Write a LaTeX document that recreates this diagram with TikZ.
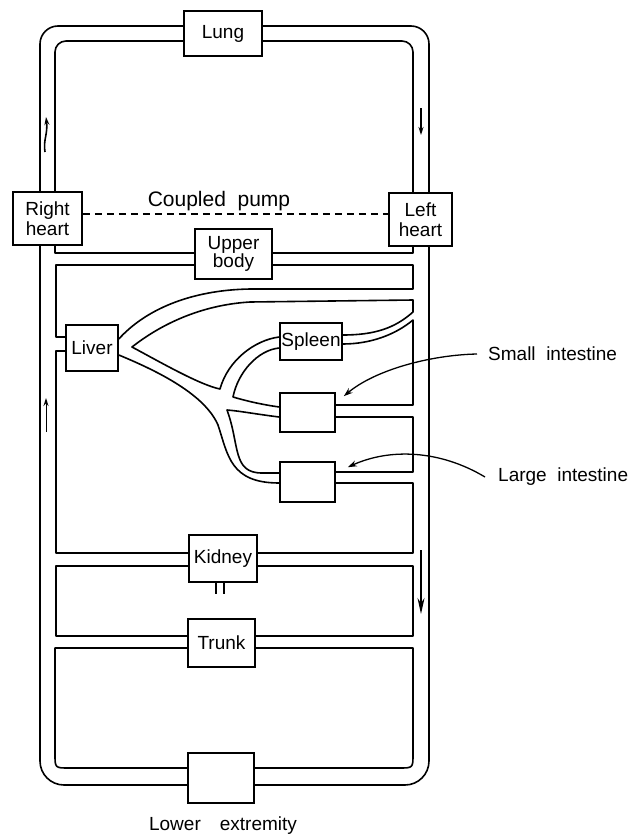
\documentclass[tikz,border=0pt]{standalone}
\usepackage{fontspec}
\setmainfont{Liberation Sans}
\usepackage{tikz}
\usetikzlibrary{arrows.meta,calc}

\begin{document}
\begin{tikzpicture}[
    x=1pt, y=-1pt,
    organ/.style={draw, line width=1.6pt, inner sep=0pt, align=center, font=\fontsize{19}{20}\selectfont},
    wall/.style={line width=1.6pt, line join=round},
    flow/.style={line width=1.3pt, -{Stealth[length=8pt, width=5pt]}},
    pointer/.style={line width=1.3pt, -{Stealth[length=9pt, width=6pt]}},
    label/.style={font=\fontsize{19}{21}\selectfont}
]
\useasboundingbox (0,0) rectangle (632,835);

% Organ boxes
\node[organ, minimum width=78, minimum height=45] (lung) at (223,33.5) {Lung};
\node[organ, minimum width=69, minimum height=53] (rheart) at (47.5,218.5) {Right\\heart};
\node[organ, minimum width=63, minimum height=53] (lheart) at (420.5,219.5) {Left\\heart};
\node[organ, minimum width=77, minimum height=50, font=\fontsize{19}{17}\selectfont] (upper) at (233.5,254) {Upper\\body};
\node[organ, minimum width=52, minimum height=46] (liver) at (92,348) {Liver};
\node[organ, minimum width=62, minimum height=37] (spleen) at (311,341.5) {Spleen};
\node[organ, minimum width=55, minimum height=39] (smallint) at (307.5,412.5) {};
\node[organ, minimum width=55, minimum height=40] (largeint) at (307.5,482) {};
\node[organ, minimum width=68, minimum height=47] (kidney) at (223,558.5) {Kidney};
\node[organ, minimum width=67, minimum height=48] (trunk) at (221.5,643) {Trunk};
\node[organ, minimum width=66, minimum height=50] (lower) at (221,778) {};

% Pulmonary loop
\draw[wall, rounded corners=18] (rheart.north -| 40,0) -- (40,26) -- (lung.west |- 0,26);
\draw[wall, rounded corners=18] (lung.east |- 0,26) -- (429,26) -- (lheart.north -| 429,0);
\draw[wall, rounded corners=11] (rheart.north -| 55,0) -- (55,41) -- (lung.west |- 0,41);
\draw[wall, rounded corners=11] (lung.east |- 0,41) -- (413,41) -- (lheart.north -| 413,0);

% Coupled pump
\draw[line width=1.2pt, dash pattern=on 7pt off 5pt] (rheart.east |- 0,214) -- (lheart.west |- 0,214);
\node[label, font=\fontsize{21}{22}\selectfont] (pump) at (219,201) {Coupled\ \ pump};

% Upper body
\draw[wall] (rheart.south -| 55,0) -- (55,253) -- (upper.west |- 0,253);
\draw[wall] (upper.east |- 0,253) -- (413,253) -- (lheart.south -| 413,0);
\draw[wall] (upper.west |- 0,265) -- (56,265) -- (56,337) -- (liver.west |- 0,337);
\draw[wall] (upper.east |- 0,265) -- (413,265) -- (413,289) -- (250,289)
    .. controls (190,290) and (145,310) .. (liver.east |- 0,339);

% Hepatic artery and spleen
\draw[wall] (spleen.east |- 0,335) .. controls (375,335) and (395,328) .. (413,312) -- (413,300) -- (250,302)
    .. controls (200,305) and (160,325) .. (132,347)
    .. controls (160,362) and (200,385) .. (220,389)
    .. controls (228,360) and (255,340) .. (spleen.west |- 0,337);
\draw[wall] (spleen.west |- 0,348) .. controls (258,350) and (238,372) .. (233,397)
    .. controls (250,402) and (265,405) .. (smallint.west |- 0,407);
\draw[wall] (smallint.east |- 0,405) -- (413,405) -- (413,320)
    .. controls (395,335) and (370,344) .. (spleen.east |- 0,344);

% Small and large intestine
\draw[wall] (smallint.west |- 0,417) .. controls (255,414) and (240,411) .. (227,410)
    .. controls (240,445) and (232,473) .. (262,473) -- (largeint.west |- 0,473);
\draw[wall] (smallint.east |- 0,417) -- (413,417) -- (413,472) -- (largeint.east |- 0,472);
\draw[wall] (liver.east |- 0,355) .. controls (160,372) and (205,395) .. (218,425)
    .. controls (228,455) and (230,483) .. (largeint.west |- 0,483);
\draw[wall] (largeint.east |- 0,483) -- (413,483) -- (413,553) -- (kidney.east |- 0,553);
\draw[wall] (kidney.west |- 0,553) -- (56,553) -- (56,351) -- (liver.west |- 0,351);

% Kidney and trunk
\draw[wall] (kidney.west |- 0,566) -- (56,566) -- (56,636) -- (trunk.west |- 0,636);
\draw[wall] (kidney.east |- 0,566) -- (413,566) -- (413,636) -- (trunk.east |- 0,636);
\draw[wall] ([xshift=-7pt]kidney.south) -- ++(0,11);
\draw[wall] ([xshift=1pt]kidney.south) -- ++(0,11);

% Trunk and lower extremity
\draw[wall] (trunk.west |- 0,648) -- (55,648) -- (55,754) .. controls (55,768) .. (69,768) -- (lower.west |- 0,768);
\draw[wall] (trunk.east |- 0,648) -- (413,648) -- (413,754) .. controls (413,768) .. (399,768) -- (lower.east |- 0,768);
\draw[wall, rounded corners=24] (rheart.south -| 40,0) -- (40,785) -- (lower.west |- 0,785);
\draw[wall, rounded corners=24] (lower.east |- 0,785) -- (429,785) -- (lheart.south -| 429,0);

% Flow direction
\draw[flow, line width=1.6pt] (45,152) .. controls (43,140) and (48,134) .. (46,117);
\draw[flow, line width=1pt] (46,432) -- (46,398);
\draw[flow] (421,108) -- (421,135);
\draw[flow, -{Stealth[length=16pt, width=7pt]}] (421,550) -- (421,614);

% Labels
\node[label, anchor=west, inner xsep=11pt] (smalltxt) at (477,354) {Small\ \ intestine};
\node[label, anchor=west, inner xsep=13pt] (largetxt) at (485,477) {Large\ \ intestine};
\node[label] (lowertxt) at (223,826) {Lower\quad extremity};
\draw[pointer] (smalltxt.west) .. controls (430,355) and (375,370) .. ([shift={(8,4)}]smallint.north east);
\draw[pointer] (largetxt.west) .. controls (440,450) and (390,448) .. ([shift={(12,6)}]largeint.north east);

\end{tikzpicture}
\end{document}
